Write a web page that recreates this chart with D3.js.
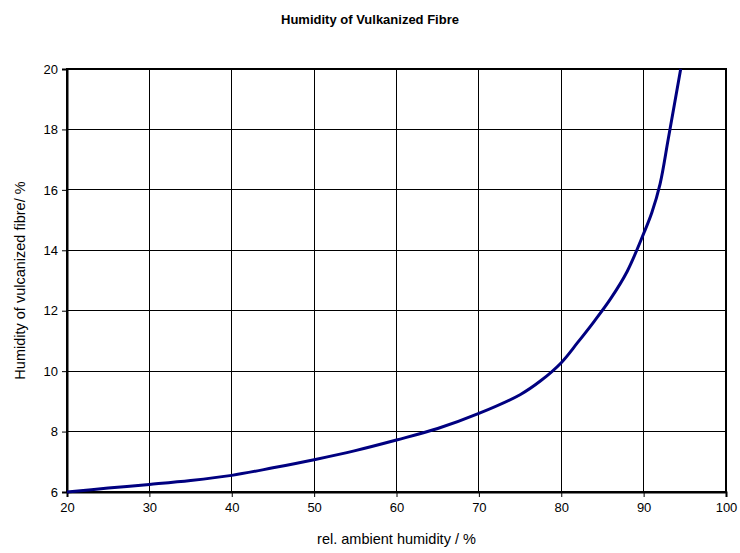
<!DOCTYPE html>
<html>
<head>
<meta charset="utf-8">
<script src="https://cdn.jsdelivr.net/npm/d3@7"></script>
<style>
  body { margin: 0; background: #fff; }
  text { font-family: "Liberation Sans", Arial, sans-serif; fill: #000; }
</style>
</head>
<body>
<div id="chart"></div>
<script>
// values
var ambient = [20, 25, 30, 35, 40, 45, 50, 55, 60, 65, 70, 75, 77.5, 80, 82, 84, 86, 88, 90, 91, 92, 93, 94.5];
var fibre = [6, 6.13, 6.25, 6.38, 6.55, 6.8, 7.07, 7.37, 7.72, 8.1, 8.6, 9.22, 9.68, 10.28, 10.95, 11.65, 12.4, 13.3, 14.55, 15.25, 16.2, 17.7, 20];
var xTicks = [20, 30, 40, 50, 60, 70, 80, 90, 100];
var yTicks = [6, 8, 10, 12, 14, 16, 18, 20];

var svgWidth = 740, svgHeight = 553;
var margin = { top: 69, right: 14, bottom: 61, left: 67 };
var width = svgWidth - margin.left - margin.right;
var height = svgHeight - margin.top - margin.bottom;

var svg = d3.select("#chart").append("svg")
    .attr("width", svgWidth)
    .attr("height", svgHeight);
var g = svg.append("g")
    .attr("transform", `translate(${margin.left}, ${margin.top})`);

var x = d3.scaleLinear().domain([20, 100]).range([0, width]);
var y = d3.scaleLinear().domain([6, 20]).range([height, 0]);

// grid
g.append("g").selectAll("line").data(xTicks).enter().append("line")
    .attr("x1", d => x(d)).attr("x2", d => x(d))
    .attr("y1", 0).attr("y2", height)
    .attr("stroke", "#000").attr("stroke-width", 1).attr("shape-rendering", "crispEdges");
g.append("g").selectAll("line").data(yTicks).enter().append("line")
    .attr("y1", d => y(d)).attr("y2", d => y(d))
    .attr("x1", 0).attr("x2", width)
    .attr("stroke", "#000").attr("stroke-width", 1).attr("shape-rendering", "crispEdges");

// frame
g.append("rect")
    .attr("width", width).attr("height", height)
    .attr("fill", "none").attr("stroke", "#000").attr("stroke-width", 1.5)
    .attr("shape-rendering", "crispEdges");

// axes
var bottomAxis = d3.axisBottom(x).tickValues(xTicks).tickSize(5).tickPadding(6);
var leftAxis = d3.axisLeft(y).tickValues(yTicks).tickSize(5).tickPadding(4);

var xa = g.append("g").attr("transform", `translate(0, ${height})`).call(bottomAxis);
var ya = g.append("g").call(leftAxis);
[xa, ya].forEach(a => {
    a.select(".domain").attr("stroke", "#000").attr("stroke-width", 2);
    a.selectAll("line").attr("stroke", "#000");
    a.selectAll("text").style("font-size", "13px").style("font-family", "Liberation Sans, Arial, sans-serif");
});

// curve
var line = d3.line()
    .x((d, i) => x(ambient[i]))
    .y(d => y(d))
    .curve(d3.curveCatmullRom.alpha(0.5));
g.append("path")
    .datum(fibre)
    .attr("d", line)
    .attr("fill", "none")
    .attr("stroke", "#000080")
    .attr("stroke-width", 3);

// titles
svg.append("text")
    .attr("x", svgWidth / 2).attr("y", 24)
    .attr("text-anchor", "middle")
    .style("font-size", "13px").style("font-weight", "bold")
    .text("Humidity of Vulkanized Fibre");

svg.append("text")
    .attr("x", margin.left + width / 2).attr("y", 544)
    .attr("text-anchor", "middle")
    .style("font-size", "14.5px")
    .text("rel. ambient humidity / %");

svg.append("text")
    .attr("transform", `translate(25, ${margin.top + height / 2}) rotate(-90)`)
    .attr("text-anchor", "middle")
    .style("font-size", "14.5px")
    .text("Humidity of vulcanized fibre/ %");
</script>
</body>
</html>
